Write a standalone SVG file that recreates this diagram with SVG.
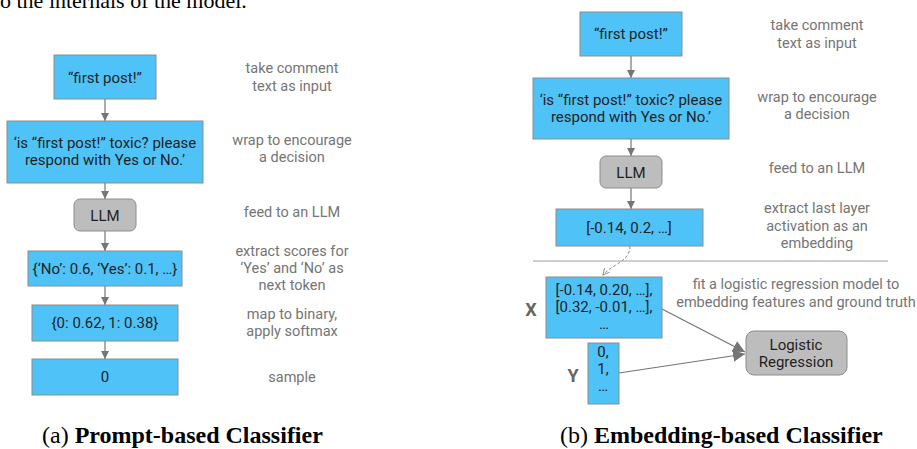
<svg xmlns="http://www.w3.org/2000/svg" width="917" height="449" viewBox="0 0 917 449">
<style>
.box{fill:#4fc3f7;stroke:#8c8c8c;stroke-width:1}
.gbox{fill:#bdbdbd;stroke:#8c8c8c;stroke-width:1}
.t{font-family:Roboto,"Liberation Sans",sans-serif;font-size:15px;fill:#1f1f1f;text-anchor:middle}
.a{font-family:Roboto,"Liberation Sans",sans-serif;font-size:14.5px;fill:#757575;text-anchor:middle}
.lbl{font-family:Roboto,"Liberation Sans",sans-serif;font-size:18px;font-weight:bold;fill:#666;text-anchor:middle}
.cap{font-family:"Liberation Serif","Times New Roman",serif;font-size:24px;fill:#000}
.ln{stroke:#757575;stroke-width:1.2;fill:none}
</style>
<defs>
<marker id="ah" viewBox="0 0 10 10" refX="10" refY="5" markerWidth="8" markerHeight="8" markerUnits="userSpaceOnUse" orient="auto">
<path d="M0,0 L10,5 L0,10 z" fill="#757575"/>
</marker>
<marker id="ah2" viewBox="0 0 10 10" refX="10" refY="5" markerWidth="12" markerHeight="12" markerUnits="userSpaceOnUse" orient="auto">
<path d="M0,0 L10,5 L0,10 z" fill="#757575"/>
</marker>
<marker id="open" viewBox="0 0 10 10" refX="9" refY="5" markerWidth="8" markerHeight="8" markerUnits="userSpaceOnUse" orient="auto">
<path d="M1,1 L9,5 L1,9" fill="none" stroke="#8c8c8c" stroke-width="1.2"/>
</marker>
</defs>
<text x="0" y="8" font-family="Liberation Serif,serif" font-size="22" fill="#000">o the internals of the model.</text>

<g id="connectors">
<line class="ln" x1="105" y1="99" x2="105" y2="121" marker-end="url(#ah)"/>
<line class="ln" x1="105" y1="183" x2="105" y2="199" marker-end="url(#ah)"/>
<line class="ln" x1="105" y1="231" x2="105" y2="251" marker-end="url(#ah)"/>
<line class="ln" x1="105" y1="286" x2="105" y2="305" marker-end="url(#ah)"/>
<line class="ln" x1="105" y1="341" x2="105" y2="359" marker-end="url(#ah)"/>
<line class="ln" x1="631" y1="56" x2="631" y2="78" marker-end="url(#ah)"/>
<line class="ln" x1="631" y1="139" x2="631" y2="156" marker-end="url(#ah)"/>
<line class="ln" x1="631" y1="188" x2="631" y2="209" marker-end="url(#ah)"/>
<path d="M630,246 C630,262 612,264 603,275" fill="none" stroke="#8c8c8c" stroke-width="1" stroke-dasharray="3,2" marker-end="url(#open)"/>
<line x1="533" y1="261" x2="888" y2="261" stroke="#9e9e9e" stroke-width="1"/>
<line class="ln" x1="662" y1="309" x2="745" y2="352" marker-end="url(#ah2)"/>
<line class="ln" x1="619" y1="373" x2="745" y2="354" marker-end="url(#ah2)"/>
</g>

<g id="a-input"><rect class="box" x="54" y="55" width="102" height="44"/><text class="t" x="105" y="83">“first post!”</text></g>
<g id="a-wrap"><rect class="box" x="7" y="121" width="196" height="62"/><text class="t" x="105" y="148">‘is “first post!” toxic? please</text><text class="t" x="105" y="165">respond with Yes or No.’</text></g>
<g id="a-llm"><rect class="gbox" x="74" y="199" width="62" height="32" rx="6"/><text class="t" x="105" y="221">LLM</text></g>
<g id="a-scores"><rect class="box" x="28" y="251" width="154" height="35"/><text class="t" x="105" y="274">{‘No’: 0.6, ‘Yes’: 0.1, …}</text></g>
<g id="a-binary"><rect class="box" x="32" y="305" width="146" height="36"/><text class="t" x="105" y="328">{0: 0.62, 1: 0.38}</text></g>
<g id="a-sample"><rect class="box" x="32" y="359" width="146" height="36"/><text class="t" x="105" y="382">0</text></g>

<g id="a-notes">
<text class="a" x="292" y="73">take comment</text><text class="a" x="292" y="91">text as input</text>
<text class="a" x="292" y="145">wrap to encourage</text><text class="a" x="292" y="162">a decision</text>
<text class="a" x="292" y="217">feed to an LLM</text>
<text class="a" x="292" y="256">extract scores for</text><text class="a" x="292" y="273">‘Yes’ and ‘No’ as</text><text class="a" x="292" y="290">next token</text>
<text class="a" x="292" y="319">map to binary,</text><text class="a" x="292" y="336">apply softmax</text>
<text class="a" x="292" y="382">sample</text>
</g>

<g id="b-input"><rect class="box" x="580" y="12" width="102" height="44"/><text class="t" x="631" y="39">“first post!”</text></g>
<g id="b-wrap"><rect class="box" x="533" y="78" width="196" height="61"/><text class="t" x="631" y="105">‘is “first post!” toxic? please</text><text class="t" x="631" y="122">respond with Yes or No.’</text></g>
<g id="b-llm"><rect class="gbox" x="600" y="156" width="62" height="32" rx="6"/><text class="t" x="631" y="178">LLM</text></g>
<g id="b-emb"><rect class="box" x="556" y="209" width="147" height="37"/><text class="t" x="629" y="233">[-0.14, 0.2, …]</text></g>
<g id="b-x"><rect class="box" x="546" y="277" width="116" height="61"/><text class="t" x="604" y="295">[-0.14, 0.20, …],</text><text class="t" x="604" y="312">[0.32, -0.01, …],</text><text class="t" x="604" y="329">…</text></g>
<g id="b-y"><rect class="box" x="588" y="343" width="31" height="61"/><text class="t" x="603" y="357">0,</text><text class="t" x="603" y="374">1,</text><text class="t" x="603" y="391">…</text></g>
<g id="b-lr"><rect class="gbox" x="746" y="331" width="101" height="44" rx="8"/><text class="t" x="796" y="350">Logistic</text><text class="t" x="796" y="367">Regression</text></g>
<text class="lbl" x="531" y="316">X</text>
<text class="lbl" x="573" y="382">Y</text>

<g id="b-notes">
<text class="a" x="817" y="30">take comment</text><text class="a" x="817" y="48">text as input</text>
<text class="a" x="817" y="102">wrap to encourage</text><text class="a" x="817" y="119">a decision</text>
<text class="a" x="817" y="173">feed to an LLM</text>
<text class="a" x="817" y="213">extract last layer</text><text class="a" x="817" y="231">activation as an</text><text class="a" x="817" y="248">embedding</text>
<text class="a" x="796" y="289">fit a logistic regression model to</text><text class="a" x="796" y="307">embedding features and ground truth</text>
</g>

<text class="cap" x="42" y="443">(a) <tspan font-weight="bold">Prompt-based Classifier</tspan></text>
<text class="cap" x="560" y="443">(b) <tspan font-weight="bold">Embedding-based Classifier</tspan></text>
</svg>
